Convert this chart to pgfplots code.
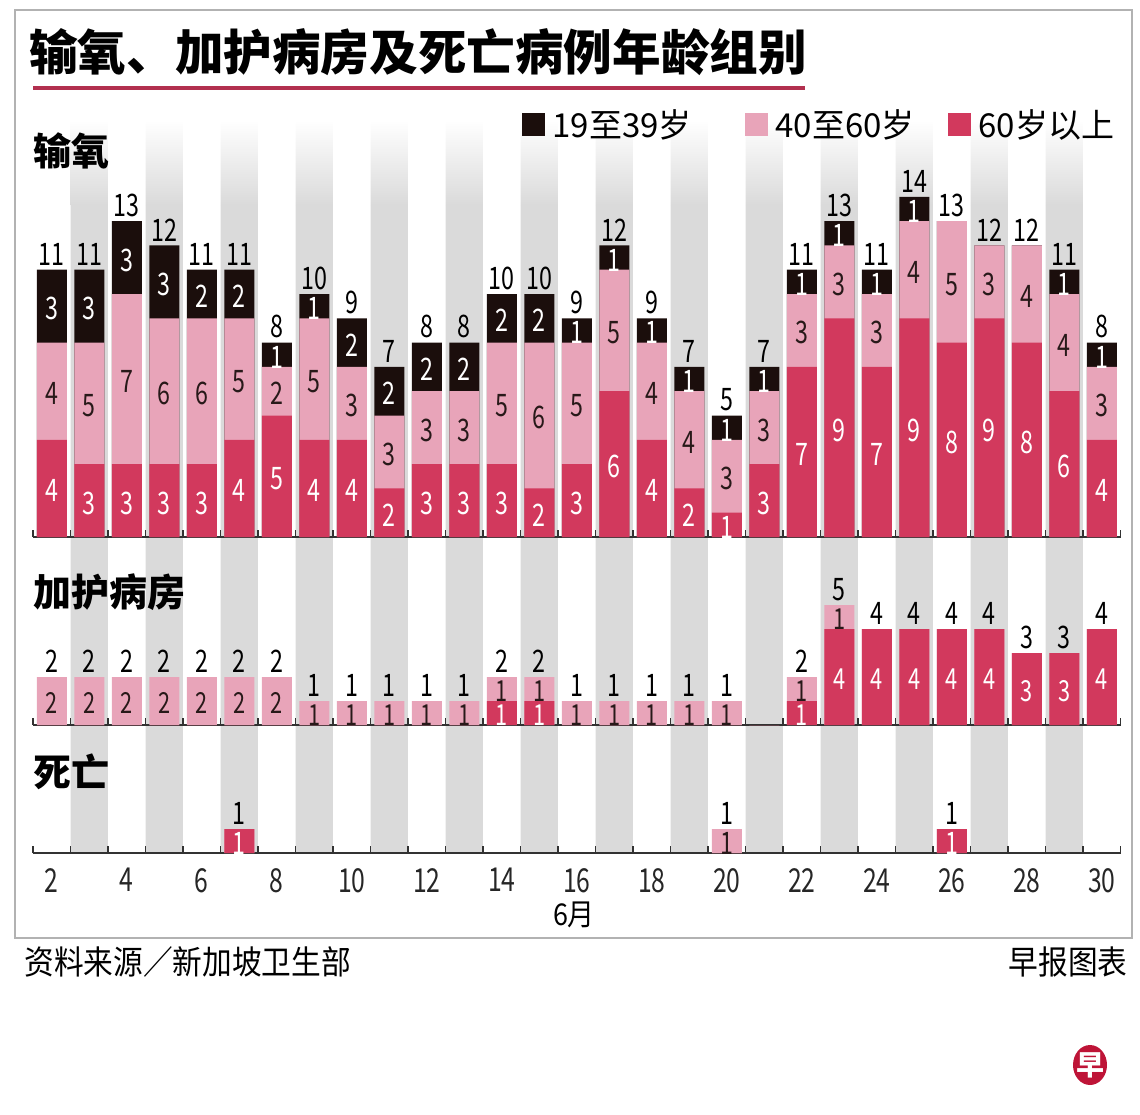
\documentclass[border=0pt]{standalone}
\usepackage{fontspec}
\setmainfont{Noto Sans CJK SC}
\newfontfamily\numf{Noto Sans CJK SC}[FakeStretch=0.75]
\newfontfamily\condf{Noto Sans CJK SC}[FakeStretch=0.9]
\usepackage{pgfplots}
\pgfplotsset{compat=1.18}
\usepackage{pgfplotstable}

\definecolor{dk}{RGB}{210,57,93}
\definecolor{lt}{RGB}{232,164,185}
\definecolor{bk}{RGB}{27,14,12}
\definecolor{stripe}{RGB}{218,218,218}
\definecolor{axc}{RGB}{50,50,50}
\definecolor{ltxt}{RGB}{40,25,25}
\definecolor{logo}{RGB}{190,20,55}

% d = day of June, a = 60岁以上, b = 40至60岁, c = 19至39岁
\pgfplotstableread{
d a b c
2 4 4 3
3 3 5 3
4 3 7 3
5 3 6 3
6 3 6 2
7 4 5 2
8 5 2 1
9 4 5 1
10 4 3 2
11 2 3 2
12 3 3 2
13 3 3 2
14 3 5 2
15 2 6 2
16 3 5 1
17 6 5 1
18 4 4 1
19 2 4 1
20 1 3 1
21 3 3 1
22 7 3 1
23 9 3 1
24 7 3 1
25 9 4 1
26 8 5 0
27 9 3 0
28 8 4 0
29 6 4 1
30 4 3 1
}\oxy

\pgfplotstableread{
d a b
2 0 2
3 0 2
4 0 2
5 0 2
6 0 2
7 0 2
8 0 2
9 0 1
10 0 1
11 0 1
12 0 1
13 0 1
14 1 1
15 1 1
16 0 1
17 0 1
18 0 1
19 0 1
20 0 1
21 0 0
22 1 1
23 4 1
24 4 0
25 4 0
26 4 0
27 4 0
28 3 0
29 3 0
30 4 0
}\icu

\pgfplotstableread{
d a b
7 1 0
20 0 1
26 1 0
}\dth

\pgfplotsset{
  panel/.style={
    anchor=south west,
    xmin=1.5, xmax=30.5, ymin=0,
    x=18.75pt,
    axis y line=none,
    axis x line*=bottom,
    x axis line style={-, draw=axc, line width=1.2pt},
    xtick={2,4,...,30},
    major tick length=0pt,
    minor xtick={1.5,2.5,...,30.5},
    minor tick length=3.5pt,
    tick align=inside,
    minor tick style={draw=axc, line width=0.6pt},
    xticklabels={},
    clip=false,
    /pgf/number format/assume math mode=true,
  },
  bar/.style={ybar, bar width=0.8, bar shift=0pt, draw=none},
  seglab/.style={draw=none, mark=none, nodes near coords,
    every node near coord/.append style={anchor=center, inner sep=0pt, yshift=-1.2pt,
      font=\numf\fontsize{15.5}{16}\selectfont, text=#1}},
  totlab/.style={draw=none, mark=none, nodes near coords,
    every node near coord/.append style={anchor=south, inner sep=0pt, yshift=2pt,
      font=\numf\fontsize{15.5}{16}\selectfont, text=black}},
}

\begin{document}
\begin{tikzpicture}
\path[use as bounding box] (0,0) rectangle (570pt,-557pt);

% background stripes
\begin{axis}[anchor=south west, at={(16.5pt,-426.5pt)},
  xmin=1.5, xmax=30.5, ymin=0, ymax=1, x=18.75pt, y=366.5pt,
  hide axis, clip=false, ybar stacked, bar width=0.99]
\addplot[fill=stripe, draw=none] coordinates {(3,0.884) (5,0.884) (7,0.884) (9,0.884) (11,0.884) (13,0.884) (15,0.884) (17,0.884) (19,0.884) (21,0.884) (23,0.884) (25,0.884) (27,0.884) (29,0.884)};
\addplot[draw=none, top color=white, bottom color=stripe] coordinates {(3,0.116) (5,0.116) (7,0.116) (9,0.116) (11,0.116) (13,0.116) (15,0.116) (17,0.116) (19,0.116) (21,0.116) (23,0.116) (25,0.116) (27,0.116) (29,0.116)};
\end{axis}

\begin{scope}[x=0.5pt,y=-0.5pt]
  \draw[gray!60, line width=1pt] (15,10) rectangle (1132,938);
  \node[anchor=west, inner sep=0] at (29,52) {\fontsize{24.3}{25}\selectfont\bfseries 输氧、加护病房及死亡病例年龄组别};
  \fill[dk!85!black] (33,86) rectangle (805,90);
  % legend
  \fill[bk] (522,113) rectangle (545,136);
  \node[anchor=west, inner sep=0] at (552,125) {\fontsize{16.5}{17}\selectfont 19至39岁};
  \fill[lt] (745,113) rectangle (768,136);
  \node[anchor=west, inner sep=0] at (775,125) {\fontsize{16.5}{17}\selectfont 40至60岁};
  \fill[dk] (948,113) rectangle (971,136);
  \node[anchor=west, inner sep=0] at (978,125) {\fontsize{16.5}{17}\selectfont 60岁以上};
  % panel labels
  \node[anchor=west, inner sep=0] at (33,151) {\fontsize{19}{20}\selectfont\bfseries 输氧};
  \node[anchor=west, inner sep=0] at (33,592) {\fontsize{19}{20}\selectfont\bfseries 加护病房};
  \node[anchor=west, inner sep=0] at (33,772) {\fontsize{19}{20}\selectfont\bfseries 死亡};
  % month
  \node[inner sep=0] at (574,915) {\condf\fontsize{15}{16}\selectfont 6月};
  % footer
  \node[anchor=west, inner sep=0] at (24,962) {\condf\fontsize{16.5}{17}\selectfont 资料来源／新加坡卫生部};
  \node[anchor=east, inner sep=0] at (1128,962) {\condf\fontsize{16.5}{17}\selectfont 早报图表};
  % logo
  \fill[logo] (1090,1065) ellipse (17 and 20);
  \node[inner sep=0, text=white] at (1090,1065) {\fontsize{14}{14}\selectfont\bfseries 早};
\end{scope}

% oxygen panel
\begin{axis}[panel, at={(16.5pt,-268.5pt)}, ymax=15, y=12.15pt]
\addplot[bar, fill=bk] table[x=d, y expr=\thisrow{a}+\thisrow{b}+\thisrow{c}] {\oxy};
\addplot[bar, fill=lt] table[x=d, y expr=\thisrow{a}+\thisrow{b}] {\oxy};
\addplot[bar, fill=dk] table[x=d, y=a] {\oxy};
\addplot[seglab=white, point meta=\thisrow{a}, restrict expr to domain={\thisrow{a}}{0.5:100}]
  table[x=d, y expr=\thisrow{a}/2] {\oxy};
\addplot[seglab=ltxt, point meta=\thisrow{b}, restrict expr to domain={\thisrow{b}}{0.5:100}]
  table[x=d, y expr=\thisrow{a}+\thisrow{b}/2] {\oxy};
\addplot[seglab=white, point meta=\thisrow{c}, restrict expr to domain={\thisrow{c}}{0.5:100}]
  table[x=d, y expr=\thisrow{a}+\thisrow{b}+\thisrow{c}/2] {\oxy};
\addplot[totlab, point meta=\thisrow{a}+\thisrow{b}+\thisrow{c}]
  table[x=d, y expr=\thisrow{a}+\thisrow{b}+\thisrow{c}] {\oxy};
\end{axis}

% ICU panel
\begin{axis}[panel, at={(16.5pt,-362.5pt)}, ymax=6, y=12pt]
\addplot[bar, fill=lt] table[x=d, y expr=\thisrow{a}+\thisrow{b}] {\icu};
\addplot[bar, fill=dk] table[x=d, y=a] {\icu};
\addplot[seglab=white, point meta=\thisrow{a}, restrict expr to domain={\thisrow{a}}{0.5:100},
  every node near coord/.append style={font=\numf\fontsize{14.5}{15}\selectfont}]
  table[x=d, y expr=\thisrow{a}/2] {\icu};
\addplot[seglab=ltxt, point meta=\thisrow{b}, restrict expr to domain={\thisrow{b}}{0.5:100},
  every node near coord/.append style={font=\numf\fontsize{14.5}{15}\selectfont}]
  table[x=d, y expr=\thisrow{a}+\thisrow{b}/2] {\icu};
\addplot[totlab, point meta=\thisrow{a}+\thisrow{b}, restrict expr to domain={\thisrow{a}+\thisrow{b}}{0.5:100}]
  table[x=d, y expr=\thisrow{a}+\thisrow{b}] {\icu};
\end{axis}

% deaths panel
\begin{axis}[panel, at={(16.5pt,-426.5pt)}, ymax=2, y=12pt,
  xticklabels={2,4,6,8,10,12,14,16,18,20,22,24,26,28,30},
  xticklabel style={font=\numf\fontsize{16.5}{17}\selectfont, text=black!85, anchor=north, yshift=-4pt}]
\addplot[bar, fill=lt] table[x=d, y expr=\thisrow{a}+\thisrow{b}] {\dth};
\addplot[bar, fill=dk] table[x=d, y=a] {\dth};
\addplot[seglab=white, point meta=\thisrow{a}, restrict expr to domain={\thisrow{a}}{0.5:100}]
  table[x=d, y expr=\thisrow{a}/2] {\dth};
\addplot[seglab=ltxt, point meta=\thisrow{b}, restrict expr to domain={\thisrow{b}}{0.5:100}]
  table[x=d, y expr=\thisrow{a}+\thisrow{b}/2] {\dth};
\addplot[totlab, point meta=\thisrow{a}+\thisrow{b}]
  table[x=d, y expr=\thisrow{a}+\thisrow{b}] {\dth};
\end{axis}
\end{tikzpicture}
\end{document}
